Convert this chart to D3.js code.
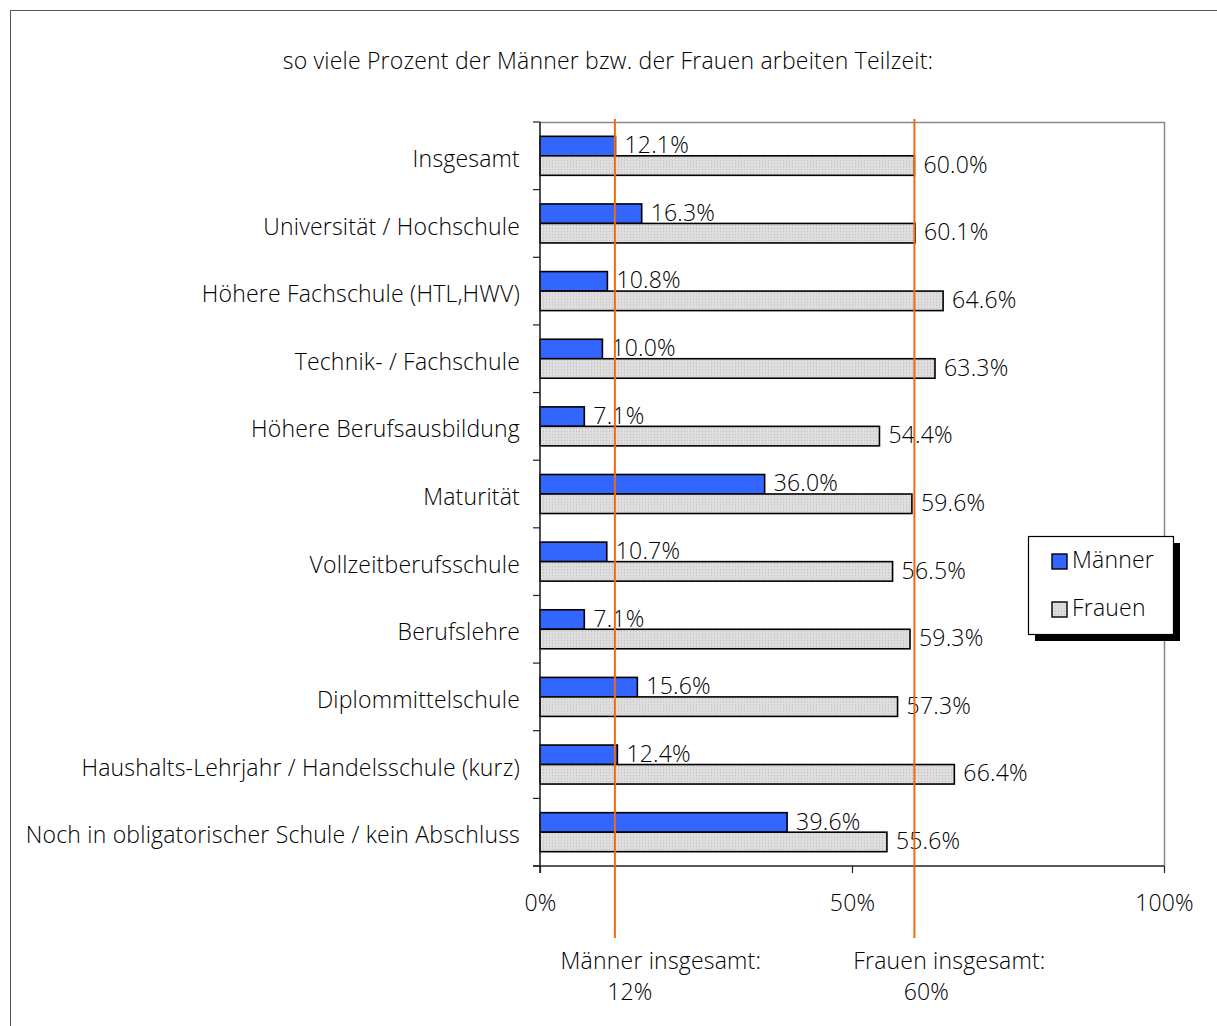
<!DOCTYPE html>
<html>
<head>
<meta charset="utf-8">
<script src="https://cdn.jsdelivr.net/npm/d3@7"></script>
<style>
  body { margin: 0; background: #fff; }
  svg { display: block; font-family: "Open Sans", "Liberation Sans", Arial, sans-serif; font-weight: 300; letter-spacing: 0.2px; }
</style>
</head>
<body>
<svg id="chart"></svg>
<script>
// Teilzeitquote nach höchster abgeschlossener Ausbildung
const categories = [
    "Insgesamt",
    "Universität / Hochschule",
    "Höhere Fachschule (HTL,HWV)",
    "Technik- / Fachschule",
    "Höhere Berufsausbildung",
    "Maturität",
    "Vollzeitberufsschule",
    "Berufslehre",
    "Diplommittelschule",
    "Haushalts-Lehrjahr / Handelsschule (kurz)",
    "Noch in obligatorischer Schule / kein Abschluss"
];
const maenner = [12.1, 16.3, 10.8, 10.0, 7.1, 36.0, 10.7, 7.1, 15.6, 12.4, 39.6];
const frauen = [60.0, 60.1, 64.6, 63.3, 54.4, 59.6, 56.5, 59.3, 57.3, 66.4, 55.6];
const seriesNames = ["Männer", "Frauen"];
const totals = [12, 60];
const totalLabels = ["Männer insgesamt:", "Frauen insgesamt:"];
const xTicks = [0, 50, 100];
const title = "so viele Prozent der Männer bzw. der Frauen arbeiten Teilzeit:";

const width = 1217, height = 1026;
const plot = { left: 540, right: 1164, top: 122, bottom: 866 };
const fontSize = 23;
const barH = 19.5;

const svg = d3.select("#chart")
    .attr("width", width)
    .attr("height", height);

// dotted gray fill of the Frauen bars
const pat = svg.append("defs").append("pattern")
    .attr("id", "dots")
    .attr("width", 3).attr("height", 3)
    .attr("patternUnits", "userSpaceOnUse");
pat.append("rect").attr("width", 3).attr("height", 3).attr("fill", "#dedede");
pat.append("rect").attr("width", 1).attr("height", 1).attr("fill", "#bdbdbd");

const colors = ["#3366ff", "url(#dots)"];

// outer frame (runs off the right and bottom)
svg.append("rect")
    .attr("x", 10.5).attr("y", 10.5)
    .attr("width", 1300).attr("height", 1100)
    .attr("fill", "none")
    .attr("stroke", "#555");

svg.append("text")
    .attr("x", 608).attr("y", 63)
    .attr("text-anchor", "middle")
    .attr("dominant-baseline", "middle")
    .style("font-size", fontSize + "px")
    .text(title);

const xScale = d3.scaleLinear()
    .domain([0, 100])
    .range([plot.left, plot.right]);

const yScale = d3.scaleBand()
    .domain(categories)
    .range([plot.top, plot.bottom]);

const bw = yScale.bandwidth();
const pad = (bw - 2 * barH) / 2;

// plot area border (top + right)
svg.append("path")
    .attr("d", `M${plot.left},${plot.top + 0.5}H${plot.right + 0.5}V${plot.bottom}`)
    .attr("fill", "none")
    .attr("stroke", "#888")
    .attr("stroke-width", 1.5);

// bars
const rows = categories.map((c, i) => ({ c, values: [maenner[i], frauen[i]] }));

const groups = svg.selectAll("g.row")
    .data(rows)
    .enter()
    .append("g")
    .attr("class", "row")
    .attr("transform", d => `translate(0,${yScale(d.c) + pad})`);

groups.selectAll("rect")
    .data(d => d.values)
    .enter()
    .append("rect")
    .attr("x", xScale(0))
    .attr("y", (v, j) => j * barH)
    .attr("width", v => xScale(v) - xScale(0))
    .attr("height", barH)
    .attr("fill", (v, j) => colors[j])
    .attr("stroke", "#000")
    .attr("stroke-width", 1.6);

groups.selectAll("text.val")
    .data(d => d.values)
    .enter()
    .append("text")
    .attr("class", "val")
    .attr("x", v => xScale(v) + 9)
    .attr("y", (v, j) => j * barH + barH / 2 + 1)
    .attr("dominant-baseline", "middle")
    .style("font-size", fontSize + "px")
    .text(v => d3.format(".1f")(v) + "%");

// y axis
const yAxis = d3.axisLeft(yScale).tickSize(0).tickPadding(20);
const gy = svg.append("g")
    .attr("transform", `translate(${plot.left},0)`)
    .call(yAxis);
gy.select(".domain").remove();
gy.attr("font-family", null).attr("font-size", null);
gy.selectAll("text")
    .style("font-size", fontSize + "px")
    .attr("fill", "#000")
    .attr("dy", "0.48em");

svg.append("g")
    .selectAll("line")
    .data(d3.range(categories.length + 1))
    .enter()
    .append("line")
    .attr("x1", plot.left - 7).attr("x2", plot.left)
    .attr("y1", i => plot.top + i * bw)
    .attr("y2", i => plot.top + i * bw)
    .attr("stroke", "#222")
    .attr("stroke-width", 1.2);

svg.append("line")
    .attr("x1", plot.left).attr("x2", plot.left)
    .attr("y1", plot.top).attr("y2", plot.bottom + 7)
    .attr("stroke", "#222")
    .attr("stroke-width", 1.6);

// x axis
const xAxis = d3.axisBottom(xScale)
    .tickValues(xTicks)
    .tickSize(7)
    .tickPadding(22)
    .tickFormat(d => d + "%");
const gx = svg.append("g")
    .attr("transform", `translate(0,${plot.bottom})`)
    .call(xAxis);
gx.attr("font-family", null).attr("font-size", null);
gx.select(".domain")
    .attr("d", `M${plot.left - 7},0H${plot.right}`)
    .attr("stroke", "#222")
    .attr("stroke-width", 1.6);
gx.selectAll(".tick line").attr("stroke", "#222").attr("stroke-width", 1.2);
gx.selectAll("text")
    .style("font-size", fontSize + "px")
    .attr("fill", "#000");

// overall reference lines
svg.selectAll("line.total")
    .data(totals)
    .enter()
    .append("line")
    .attr("class", "total")
    .attr("x1", d => xScale(d)).attr("x2", d => xScale(d))
    .attr("y1", 119).attr("y2", 938)
    .attr("stroke", "#f26a10")
    .attr("stroke-width", 2);

const notes = svg.selectAll("g.note")
    .data(totals)
    .enter()
    .append("g")
    .attr("class", "note")
    .style("font-size", fontSize + "px")
    .attr("text-anchor", "middle");
notes.append("text")
    .attr("x", (d, i) => xScale(d) + (i === 0 ? 46 : 35))
    .attr("y", 969)
    .text((d, i) => totalLabels[i]);
notes.append("text")
    .attr("x", (d, i) => xScale(d) + (i === 0 ? 15 : 12))
    .attr("y", 1000)
    .text(d => d + "%");

// legend
const legend = svg.append("g").attr("transform", "translate(1028,536)");
legend.append("rect")
    .attr("x", 7).attr("y", 7)
    .attr("width", 145).attr("height", 98)
    .attr("fill", "#000");
legend.append("rect")
    .attr("x", 0.5).attr("y", 0.5)
    .attr("width", 145).attr("height", 98)
    .attr("fill", "#fff")
    .attr("stroke", "#000")
    .attr("stroke-width", 1.2);
const items = legend.selectAll("g.item")
    .data(seriesNames)
    .enter()
    .append("g")
    .attr("class", "item")
    .attr("transform", (d, i) => `translate(24,${18 + i * 48})`);
items.append("rect")
    .attr("width", 15).attr("height", 15)
    .attr("fill", (d, i) => colors[i])
    .attr("stroke", "#000")
    .attr("stroke-width", 1.4);
items.append("text")
    .attr("x", 20).attr("y", 8)
    .attr("dominant-baseline", "middle")
    .style("font-size", fontSize + "px")
    .text(d => d);
</script>
</body>
</html>
